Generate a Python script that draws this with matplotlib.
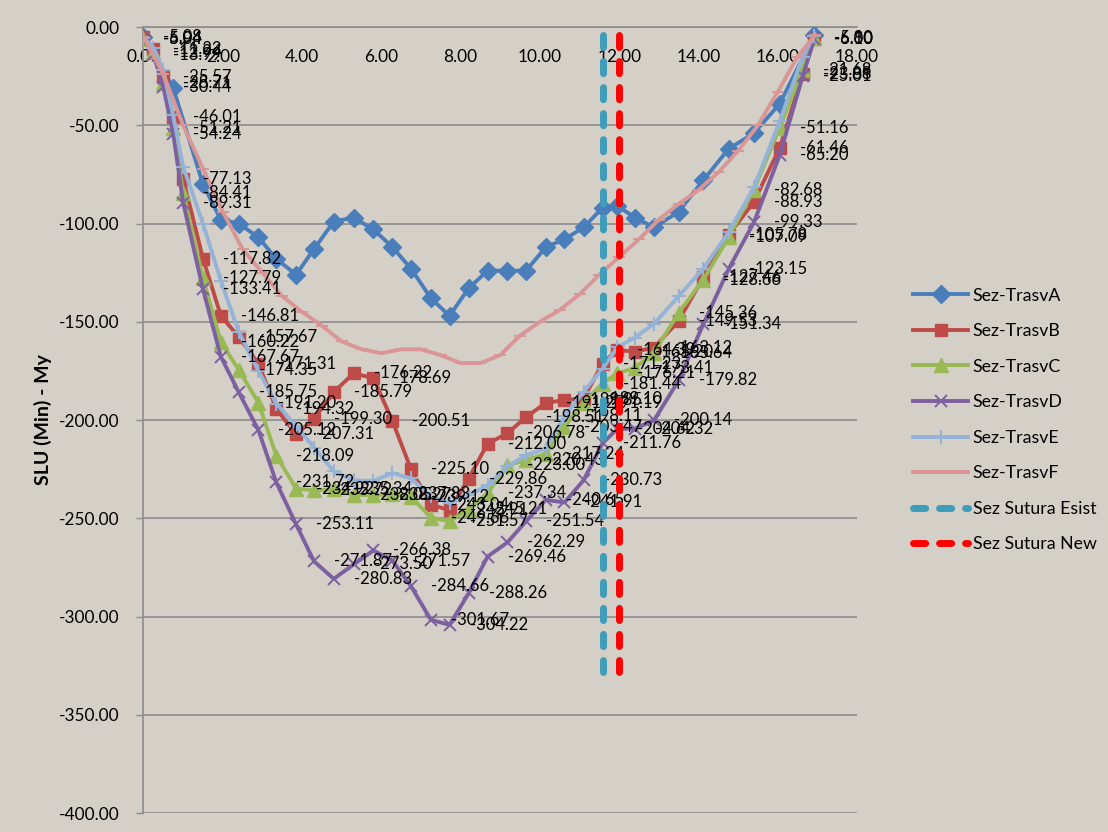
import matplotlib
matplotlib.use("Agg")
import matplotlib.pyplot as plt

plt.rcParams['font.family'] = ['Lato', 'DejaVu Sans']

# Abscissae of the sections (B, C, D, E share the same stations)
x_sez = [0.00, 0.25, 0.50, 0.75, 1.00, 1.50, 1.95, 2.40, 2.90, 3.35,
         3.85, 4.30, 4.80, 5.30, 5.80, 6.28, 6.75, 7.25, 7.72, 8.20,
         8.68, 9.18, 9.65, 10.15, 10.62, 11.10, 11.58, 11.95, 12.40, 12.88,
         13.50, 14.12, 14.76, 15.40, 16.05, 16.63, 16.92]

x_a = [0.00, 0.75, 1.50, 1.95, 2.40, 2.90, 3.35, 3.85, 4.30, 4.80,
       5.30, 5.80, 6.28, 6.75, 7.25, 7.72, 8.20, 8.68, 9.18, 9.65,
       10.15, 10.62, 11.10, 11.58, 11.95, 12.40, 12.88, 13.50, 14.12, 14.76,
       15.40, 16.05, 16.92]

x_f = [0.0, 0.5, 1.0, 1.5, 2.0, 2.5, 3.0, 3.5, 4.0, 4.5,
       5.0, 5.5, 6.0, 6.5, 7.0, 7.5, 8.0, 8.5, 9.0, 9.5,
       10.0, 10.5, 11.0, 11.5, 12.0, 12.5, 13.0, 13.5, 14.0, 14.5,
       15.0, 15.5, 16.0, 16.5, 16.95]

trasv_a = [-5, -31, -80, -98, -100, -107, -118, -126, -113, -99,
           -97, -103, -112, -123, -138, -147, -133, -124, -124, -124,
           -112, -108, -102, -92, -91, -97, -102, -94, -78, -62,
           -54, -39, -4]

trasv_b = [-5.08, -11.22, -25.57, -46.01, -77.13, -117.82, -146.81, -157.67, -171.31, -194.32,
           -207.31, -199.30, -185.79, -176.22, -178.69, -200.51, -225.10, -243.04, -245.91, -229.86,
           -212.00, -206.78, -198.51, -191.27, -189.85, -189.10, -171.23, -164.39, -165.20, -163.12,
           -149.53, -127.46, -105.78, -88.93, -61.46, -23.88, -6.00]

trasv_c = [-6.04, -12.94, -28.71, -51.21, -84.41, -127.79, -160.22, -174.35, -191.20, -218.09,
           -234.92, -235.72, -235.34, -238.05, -238.27, -237.83, -239.12, -249.66, -251.57, -245.21,
           -237.34, -223.00, -220.43, -217.24, -203.47, -191.19, -181.44, -176.21, -173.41, -165.64,
           -145.36, -128.66, -107.09, -82.68, -51.16, -21.68, -5.80]

trasv_d = [-5.94, -13.99, -30.44, -54.24, -89.31, -133.41, -167.67, -185.75, -205.12, -231.72,
           -253.11, -271.87, -280.83, -273.50, -266.38, -271.57, -284.66, -301.67, -304.22, -288.26,
           -269.46, -262.29, -251.54, -240.65, -241.91, -230.73, -211.76, -204.62, -204.32, -200.14,
           -179.82, -151.34, -123.15, -99.33, -65.20, -25.01, -6.10]

trasv_e = [-5.5, -10.5, -22.0, -45.0, -71.0, -100.0, -129.0, -155.0, -175.0, -191.6,
           -203.0, -214.0, -226.0, -230.7, -231.0, -227.0, -229.7, -238.8, -242.3, -238.3,
           -233.2, -223.6, -218.0, -214.5, -198.11, -185.6, -174.0, -163.0, -158.0, -151.0,
           -137.0, -123.0, -104.4, -81.6, -48.0, -15.0, -4.5]

trasv_f = [-5, -24, -50, -72, -94, -113, -125, -137, -145, -152,
           -160, -164, -166, -164, -164, -167, -171, -171, -167, -157,
           -150, -144, -136, -126, -117, -108, -98, -90, -83, -74,
           -63, -50, -33, -15, -4]

# Section E only carries a value label at this station
e_label_index = [24]

sutura_esist_x = 11.6
sutura_new_x = 12.0
sutura_y = [-4, -328]

x_ticks = [0, 2, 4, 6, 8, 10, 12, 14, 16, 18]
y_ticks = [0, -50, -100, -150, -200, -250, -300, -350, -400]

bg = '#D4D0C8'
grid_col = '#8C8C8C'
tick_fs = 12.4
label_fs = 12.0

fig = plt.figure(figsize=(11.08, 8.32), dpi=100, facecolor=bg)
ax = fig.add_axes([0.1295, 0.0228, 0.7735 - 0.1295, 0.9675 - 0.0228])
ax.set_facecolor(bg)
ax.set_xlim(0, 18)
ax.set_ylim(-400, 0)

lw = 2.8
series = [
    ('Sez-TrasvA', x_a, trasv_a, '#4A7EBB', dict(marker='D', ms=9)),
    ('Sez-TrasvB', x_sez, trasv_b, '#BE4B48', dict(marker='s', ms=9)),
    ('Sez-TrasvC', x_sez, trasv_c, '#98B954', dict(marker='^', ms=9.5)),
    ('Sez-TrasvD', x_sez, trasv_d, '#7D60A0', dict(marker='x', ms=9, mew=1.4)),
    ('Sez-TrasvE', x_sez, trasv_e, '#95B3D7', dict(marker='+', ms=10, mew=1.4)),
    ('Sez-TrasvF', x_f, trasv_f, '#D99694', dict(marker='_', ms=8, mew=1.4)),
]
handles = []
for name, xs, ys, col, mk in series:
    h, = ax.plot(xs, ys, color=col, lw=lw, zorder=3, label=name,
                 solid_joinstyle='round', **mk)
    handles.append(h)


def value_label(xv, yv):
    ax.annotate(f'{yv:.2f}', (xv, yv), xytext=(20, 0), textcoords='offset pixels',
                ha='left', va='center', fontsize=label_fs, color='black',
                zorder=5, annotation_clip=False)


# Value labels for sections B, C and D
for xs, ys in [(x_sez, trasv_b), (x_sez, trasv_c), (x_sez, trasv_d)]:
    for xv, yv in zip(xs, ys):
        value_label(xv, yv)
for i in e_label_index:
    value_label(x_sez[i], trasv_e[i])

# Joint sections
sut_style = dict(lw=5, linestyle=(0, (1.75, 2.0)), dash_capstyle='round', zorder=6)
h1, = ax.plot([sutura_esist_x] * 2, sutura_y, color='#3E9DB8', label='Sez Sutura Esist', **sut_style)
h2, = ax.plot([sutura_new_x] * 2, sutura_y, color='#FF0000', label='Sez Sutura New', **sut_style)
handles += [h1, h2]

# Axes styling
ax.set_xticks(x_ticks)
ax.set_xticklabels([f'{v:.2f}' for v in x_ticks])
ax.set_yticks(y_ticks)
ax.set_yticklabels([f'{v:.2f}' for v in y_ticks])
ax.xaxis.set_ticks_position('top')
ax.tick_params(axis='x', labeltop=True, labelbottom=False, length=0, pad=-27,
               labelsize=tick_fs, labelcolor='black')
ax.tick_params(axis='y', length=5, width=1, color=grid_col, pad=12,
               labelsize=tick_fs, labelcolor='black')
for s in ['right', 'bottom']:
    ax.spines[s].set_visible(False)
for s in ['left', 'top']:
    ax.spines[s].set_color(grid_col)
    ax.spines[s].set_linewidth(1.2)
ax.yaxis.grid(True, color=grid_col, lw=1.2, zorder=0)
ax.set_axisbelow(True)

ax.set_ylabel('SLU (Min) - My', fontsize=14, fontweight='bold')
ax.yaxis.set_label_coords(-0.128, 0.5)

fig.legend(handles=handles, loc='center left', bbox_to_anchor=(913 / 1108, 1 - 420 / 832),
           frameon=False, fontsize=12.8, handlelength=3.1, handletextpad=0.25,
           labelspacing=1.1, borderpad=0, borderaxespad=0)

fig.savefig('out.png', dpi=100, facecolor=bg)
